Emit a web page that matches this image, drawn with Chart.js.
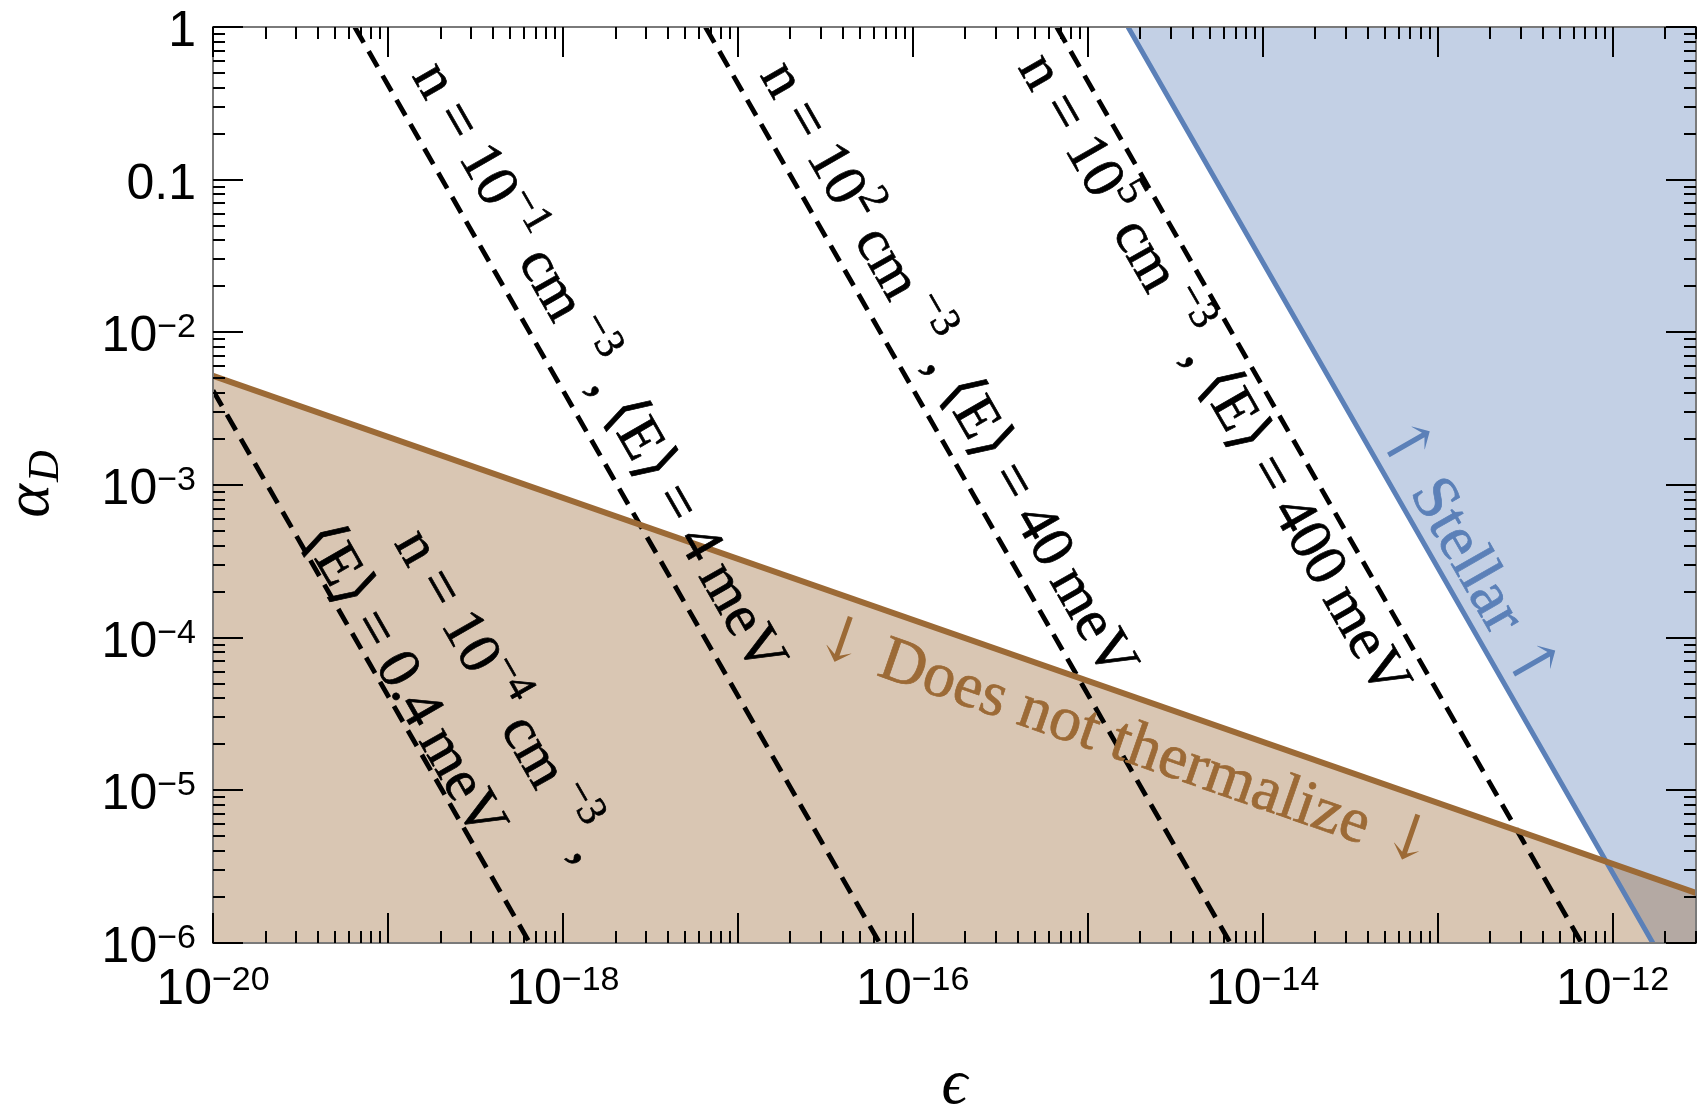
<!DOCTYPE html>
<html>
<head>
<meta charset="utf-8">
<script src="https://cdn.jsdelivr.net/npm/chart.js@4.4.1/dist/chart.umd.min.js"></script>
<style>
html,body{margin:0;padding:0;background:#ffffff;}
#wrap{width:1704px;height:1109px;position:relative;}
canvas{display:block;}
</style>
</head>
<body>
<div id="wrap"><canvas id="c" width="1704" height="1109"></canvas></div>
<script>
// ---------- axis ranges ----------
const EPS_MIN = 1e-20, EPS_MAX = 3e-12;
const ALPHA_MIN = 1e-6, ALPHA_MAX = 1;

// ---------- tick labels ----------
const xTickValues = [1e-20, 1e-18, 1e-16, 1e-14, 1e-12];
const xTickMantissas = ['10', '10', '10', '10', '10'];
const xTickExponents = ['−20', '−18', '−16', '−14', '−12'];
const yTickValues = [1, 0.1, 1e-2, 1e-3, 1e-4, 1e-5, 1e-6];
const yTickMantissas = ['1', '0.1', '10', '10', '10', '10', '10'];
const yTickExponents = ['', '', '−2', '−3', '−4', '−5', '−6'];

// ---------- series (epsilon, alpha_D) ----------
const thermEps = [1e-20, 3e-12];
const thermAlpha = [5.18e-3, 2.13e-6];
const stellarEps = [1.70e-15, 1.70e-12, 3e-12];
const stellarAlpha = [1, 1e-6, 3.2e-7];
const dash04Eps = [1e-20, 6.46e-19];
const dash04Alpha = [4.17e-3, 1e-6];
const dash4Eps = [6.46e-20, 6.46e-17];
const dash4Alpha = [1, 1e-6];
const dash40Eps = [6.53e-18, 6.53e-15];
const dash40Alpha = [1, 1e-6];
const dash400Eps = [6.65e-16, 6.65e-13];
const dash400Alpha = [1, 1e-6];

function pts(xs, ys) { return xs.map((x, i) => ({x: x, y: ys[i]})); }

const BROWN = '#9c6a36', BLUE = '#5b80b8';
const SERIF = "'Liberation Serif', 'DejaVu Serif', serif";
const ARROWF = "'DejaVu Serif', 'DejaVu Sans', serif";
const SANS = "'Liberation Sans', Arial, sans-serif";
const TS = '\u2009';

// annotation labels along lines: ds = dataset index, t = fraction along segment, off = baseline offset (px, perpendicular)
const annotations = [
  {ds: 2, t: 0.395, off: 25, color: '#000', size: 60,
   segs: [['n = 10'], ['−1', 1], [' cm'], [' −3', 1], [' , ⟨E⟩ = 4' + TS + 'meV']]},
  {ds: 3, t: 0.396, off: 23, color: '#000', size: 60,
   segs: [['n = 10'], ['2', 1], [' cm'], [' −3', 1], [' , ⟨E⟩ = 40' + TS + 'meV']]},
  {ds: 4, t: 0.36, off: -54, color: '#000', size: 60,
   segs: [['n = 10'], ['5', 1], [' cm'], [' −3', 1], [' , ⟨E⟩ = 400' + TS + 'meV']]},
  {ds: 1, t: 0.641, off: 81, color: '#000', size: 60,
   segs: [['n = 10'], ['−4', 1], [' cm'], [' −3', 1], [' ,']]},
  {ds: 1, t: 0.545, off: 4, color: '#000', size: 60,
   segs: [['⟨E⟩ = 0.4' + TS + 'meV']]},
  {ds: 0, t: 0.625, off: -64, color: BROWN, size: 64,
   segs: [['↓', 0, ARROWF], [' Does not thermalize '], ['↓', 0, ARROWF]]},
  {ds: 5, t: 0.594, off: 13, color: BLUE, size: 64,
   segs: [['↑', 0, ARROWF], [' Stellar '], ['↑', 0, ARROWF]]}
];

function segFont(s, size) {
  const sz = s[1] ? size * 0.7 : size;
  return sz + 'px ' + (s[2] || SERIF);
}

function drawRich(ctx, segs, size, x, y, angle, color) {
  ctx.save();
  ctx.translate(x, y);
  ctx.rotate(angle);
  ctx.fillStyle = color;
  ctx.strokeStyle = color;
  ctx.lineWidth = 0.7;
  ctx.textBaseline = 'alphabetic';
  ctx.textAlign = 'left';
  const ws = [];
  let total = 0;
  segs.forEach(s => {
    ctx.font = segFont(s, size);
    const w = ctx.measureText(s[0]).width;
    ws.push(w); total += w;
  });
  let cx = -total / 2;
  segs.forEach((s, i) => {
    ctx.font = segFont(s, size);
    const dy = s[1] ? -size * 0.42 : 0;
    ctx.fillText(s[0], cx, dy);
    if (!s[2]) ctx.strokeText(s[0], cx, dy);
    cx += ws[i];
  });
  ctx.restore();
}

const decorPlugin = {
  id: 'decor',
  afterDatasetsDraw(chart) {
    const ctx = chart.ctx;
    const a = chart.chartArea;
    const xs = chart.scales.x, ys = chart.scales.y;

    // annotations
    annotations.forEach(an => {
      const d = chart.data.datasets[an.ds].data;
      const p0 = {x: xs.getPixelForValue(d[0].x), y: ys.getPixelForValue(d[0].y)};
      const p1 = {x: xs.getPixelForValue(d[1].x), y: ys.getPixelForValue(d[1].y)};
      const ang = Math.atan2(p1.y - p0.y, p1.x - p0.x);
      const px = p0.x + an.t * (p1.x - p0.x) + Math.sin(ang) * an.off;
      const py = p0.y + an.t * (p1.y - p0.y) - Math.cos(ang) * an.off;
      drawRich(ctx, an.segs, an.size, px, py, ang, an.color);
    });

    // frame
    ctx.save();
    ctx.strokeStyle = '#7a7a7a';
    ctx.lineWidth = 2;
    ctx.strokeRect(a.left, a.top, a.right - a.left, a.bottom - a.top);

    // ticks
    ctx.strokeStyle = '#000';
    ctx.lineWidth = 2;
    const MAJ = 30, MIN = 12;
    ctx.beginPath();
    for (let e = -20; e <= -12; e++) {
      for (let m = 1; m <= 9; m++) {
        const v = m * Math.pow(10, e);
        if (v < EPS_MIN * 0.999 || v > EPS_MAX * 1.001) continue;
        const px = Math.round(xs.getPixelForValue(v));
        const L = m === 1 ? MAJ : MIN;
        ctx.moveTo(px, a.bottom); ctx.lineTo(px, a.bottom - L);
        ctx.moveTo(px, a.top); ctx.lineTo(px, a.top + L);
      }
    }
    for (let e = -6; e <= 0; e++) {
      for (let m = 1; m <= 9; m++) {
        const v = m * Math.pow(10, e);
        if (v < ALPHA_MIN * 0.999 || v > ALPHA_MAX * 1.001) continue;
        const py = Math.round(ys.getPixelForValue(v));
        const L = m === 1 ? MAJ : MIN;
        ctx.moveTo(a.left, py); ctx.lineTo(a.left + L, py);
        ctx.moveTo(a.right, py); ctx.lineTo(a.right - L, py);
      }
    }
    ctx.stroke();

    // tick labels
    ctx.fillStyle = '#000';
    ctx.textBaseline = 'alphabetic';
    const BASE = 50, SUP = 34, RAISE = 14;
    // y
    yTickValues.forEach((v, i) => {
      const py = ys.getPixelForValue(v);
      const right = a.left - 17;
      ctx.font = SUP + 'px ' + SANS;
      const we = yTickExponents[i] ? ctx.measureText(yTickExponents[i]).width : 0;
      ctx.textAlign = 'right';
      if (we) ctx.fillText(yTickExponents[i], right, py + 19 - RAISE);
      ctx.font = BASE + 'px ' + SANS;
      ctx.fillText(yTickMantissas[i], right - we, py + 19);
    });
    // x
    xTickValues.forEach((v, i) => {
      const px = xs.getPixelForValue(v);
      ctx.font = BASE + 'px ' + SANS;
      const wb = ctx.measureText(xTickMantissas[i]).width;
      ctx.font = SUP + 'px ' + SANS;
      const we = ctx.measureText(xTickExponents[i]).width;
      const start = px - (wb + we) / 2;
      ctx.textAlign = 'left';
      ctx.font = BASE + 'px ' + SANS;
      ctx.fillText(xTickMantissas[i], start, a.bottom + 61);
      ctx.font = SUP + 'px ' + SANS;
      ctx.fillText(xTickExponents[i], start + wb, a.bottom + 61 - RAISE);
    });

    // axis titles
    ctx.font = 'italic 64px ' + SERIF;
    ctx.textAlign = 'center';
    ctx.fillText('ϵ', (a.left + a.right) / 2, 1103);

    ctx.translate(48, (a.top + a.bottom) / 2);
    ctx.rotate(-Math.PI / 2);
    ctx.font = 'italic 64px ' + SERIF;
    const wA = ctx.measureText('α').width;
    ctx.font = 'italic 44px ' + SERIF;
    const wD = ctx.measureText('D').width;
    const st = -(wA + wD) / 2;
    ctx.textAlign = 'left';
    ctx.font = 'italic 64px ' + SERIF;
    ctx.fillText('α', st, 0);
    ctx.font = 'italic 44px ' + SERIF;
    ctx.fillText('D', st + wA + 2, 10);
    ctx.restore();
  }
};

const dashStyle = {borderColor: '#000', borderWidth: 4.8, borderDash: [18, 10], fill: false, pointRadius: 0, tension: 0};

new Chart(document.getElementById('c').getContext('2d'), {
  type: 'line',
  data: {
    datasets: [
      {label: 'Does not thermalize', data: pts(thermEps, thermAlpha), borderColor: BROWN, borderWidth: 6,
       backgroundColor: 'rgba(156,106,54,0.38)', fill: 'start', pointRadius: 0},
      Object.assign({label: 'n=1e-4, 0.4 meV', data: pts(dash04Eps, dash04Alpha)}, dashStyle),
      Object.assign({label: 'n=1e-1, 4 meV', data: pts(dash4Eps, dash4Alpha)}, dashStyle),
      Object.assign({label: 'n=1e2, 40 meV', data: pts(dash40Eps, dash40Alpha)}, dashStyle),
      Object.assign({label: 'n=1e5, 400 meV', data: pts(dash400Eps, dash400Alpha)}, dashStyle),
      {label: 'Stellar', data: pts(stellarEps, stellarAlpha), borderColor: BLUE, borderWidth: 5,
       backgroundColor: 'rgba(91,128,184,0.37)', fill: 'end', pointRadius: 0}
    ]
  },
  options: {
    responsive: false,
    animation: false,
    layout: {padding: {left: 213, right: 8, top: 27, bottom: 166}},
    scales: {
      x: {type: 'logarithmic', min: EPS_MIN, max: EPS_MAX, display: false},
      y: {type: 'logarithmic', min: ALPHA_MIN, max: ALPHA_MAX, display: false}
    },
    plugins: {
      legend: {display: false},
      tooltip: {enabled: false},
      filler: {drawTime: 'beforeDatasetsDraw'}
    }
  },
  plugins: [decorPlugin]
});
</script>
</body>
</html>
